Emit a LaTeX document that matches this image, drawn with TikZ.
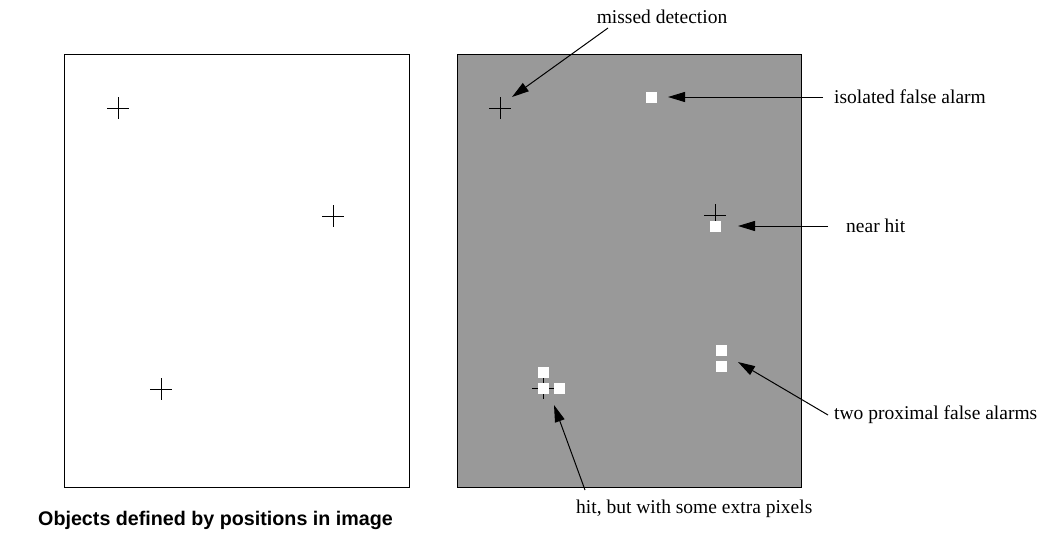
\documentclass[tikz,border=0pt]{standalone}
\usepackage{fontspec}
\setmainfont{Liberation Serif}
\setsansfont{Liberation Sans}
\usetikzlibrary{arrows.meta,calc}
\definecolor{panelgray}{HTML}{999999}
\tikzset{
  panel/.style={draw=black, line width=1pt},
  target/.style={line width=1pt, draw=black},
  pix/.style={fill=white, draw=none, minimum size=11pt, inner sep=0pt, outer sep=0pt},
  note/.style={font=\fontsize{19.5}{22}\selectfont, inner sep=0pt},
  callout/.style={line width=1pt, -{Triangle[length=17pt, width=10pt]}},
}
% draws a cross marker of half-size 11 at the given point
\newcommand{\crossmark}[2]{%
  \coordinate (#1) at #2;
  \draw[target] ($(#1)+(-11,0)$) -- ($(#1)+(11,0)$);
  \draw[target] ($(#1)+(0,-11)$) -- ($(#1)+(0,11)$);
}
\begin{document}
\begin{tikzpicture}[x=1pt, y=-1pt]
\useasboundingbox (0,0) rectangle (1039,536);

% left panel: ground-truth positions
\draw[panel, fill=white] (64,54) rectangle (409,487);
\crossmark{l1}{(118,108)}
\crossmark{l2}{(333,216)}
\crossmark{l3}{(161,389)}

% right panel: detections over the ground truth
\draw[panel, fill=panelgray] (457,54) rectangle (801,487);
\crossmark{r1}{(500,108)}
\crossmark{r2}{(715,215)}
\crossmark{r3}{(543,388)}

\node[pix] (iso) at (651.5,97.5) {};
\node[pix] (near) at (715.5,226.5) {};
\node[pix] (pa) at (721.5,350.5) {};
\node[pix] (pb) at (721.5,366.5) {};
\node[pix] (ha) at (543.5,372.5) {};
\node[pix] (hb) at (543.5,388.5) {};
\node[pix] (hc) at (559.5,388.5) {};

% labels
\node[note, anchor=base] (tmiss) at (662,23) {missed detection};
\node[note, anchor=base west] (tiso) at (834,103) {isolated false alarm};
\node[note, anchor=base west] (tnear) at (846,232) {near hit};
\node[note, anchor=base west] (tprox) at (834,419) {two proximal false alarms};
\node[note, anchor=base west] (thit) at (576,513) {hit, but with some extra pixels};
\node[font=\sffamily\bfseries\fontsize{19.7}{22}\selectfont, anchor=base west, inner sep=0pt] (title) at (38,525) {Objects defined by positions in image};

% callouts
\coordinate (missfrom) at (608,28);
\coordinate (missto) at (512,97);
\draw[callout] (missfrom) -- (missto);
\coordinate (isofrom) at (823,97);
\coordinate (isoto) at (668,97);
\draw[callout] (isofrom) -- (isoto);
\coordinate (nearfrom) at (828,226);
\coordinate (nearto) at (738,226);
\draw[callout] (nearfrom) -- (nearto);
\coordinate (proxfrom) at (828,415);
\coordinate (proxto) at (738,362);
\draw[callout] (proxfrom) -- (proxto);
\coordinate (hitfrom) at (585,490);
\coordinate (hitto) at (554,405);
\draw[callout] (hitfrom) -- (hitto);
\end{tikzpicture}
\end{document}
